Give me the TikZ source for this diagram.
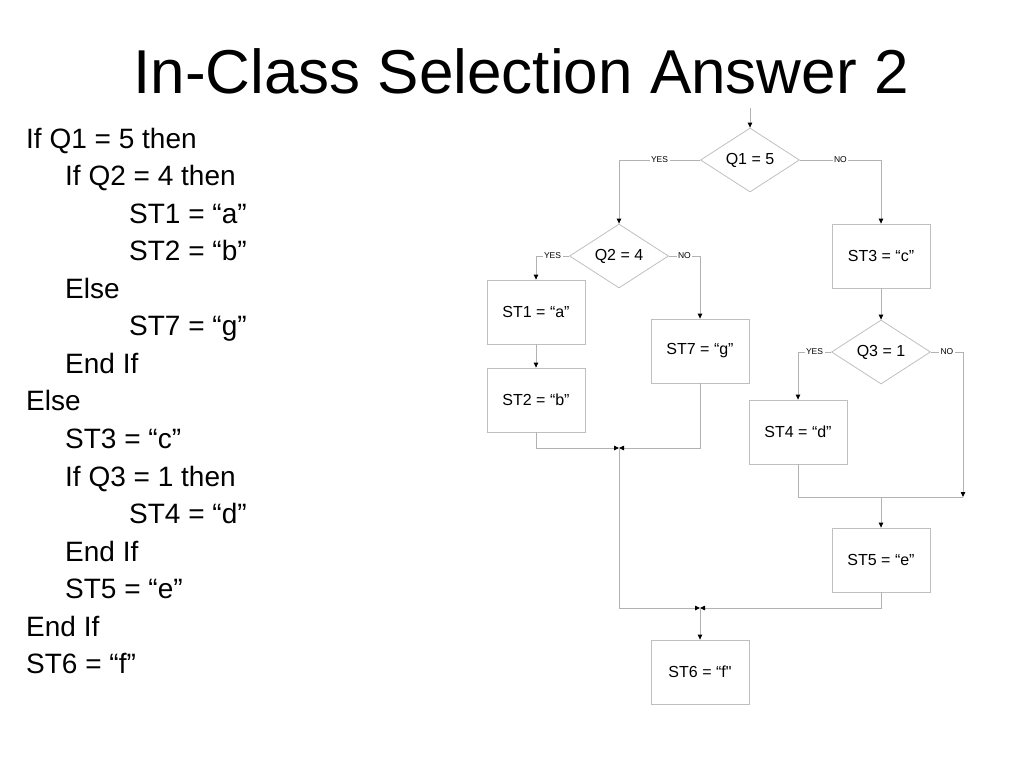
\documentclass[tikz,border=0pt]{standalone}
\usepackage{fontspec}
\setmainfont{Liberation Sans}[Ligatures=TeXOff]
\usetikzlibrary{shapes.geometric,arrows.meta}

\begin{document}
\begin{tikzpicture}[x=1pt,y=-1pt,
    box/.style={draw=gray!50,line width=0.8pt,minimum width=98pt,minimum height=64pt,font=\fontsize{16}{19}\selectfont},
    test/.style={draw=gray!50,line width=0.8pt,diamond,aspect=1.5,inner sep=1pt,minimum width=99pt,minimum height=64pt,font=\fontsize{16}{19}\selectfont},
    flow/.style={draw=gray!60,line width=0.8pt,-{Triangle[length=5pt,width=4.5pt,color=black]}},
    link/.style={draw=gray!60,line width=0.8pt},
    description/.style={fill=white,inner sep=1.5pt,font=\fontsize{8.5}{10}\selectfont}]
  \useasboundingbox (0,0) rectangle (1024,768);
  \node[anchor=base,font=\fontsize{62}{70}\selectfont] (title) at (521,93) {In-Class Selection Answer 2};
  % pseudo code
  \foreach \ind/\txt [count=\i] in {26/If Q1 = 5 then, 65/If Q2 = 4 then, 129/ST1 = “a”, 129/ST2 = “b”,
      65/Else, 129/ST7 = “g”, 65/End If, 26/Else, 65/ST3 = “c”, 65/If Q3 = 1 then,
      129/ST4 = “d”, 65/End If, 65/ST5 = “e”, 26/End If, 26/ST6 = “f”}
    \node[anchor=base west,inner sep=0pt,font=\fontsize{28}{34}\selectfont] (code-\i) at (\ind,{148+37.57*(\i-1)}) {\txt};
  % flow chart
  \node[test] (q1) at (750,160) {Q1 = 5};
  \node[test] (q2) at (619,256) {Q2 = 4};
  \node[box] (st1) at (536,312) {ST1 = “a”};
  \node[box] (st2) at (536,400) {ST2 = “b”};
  \node[box] (st7) at (700,351) {ST7 = “g”};
  \node[box] (st3) at (881,256) {ST3 = “c”};
  \node[test] (q3) at (881,352) {Q3 = 1};
  \node[box] (st4) at (798,432) {ST4 = “d”};
  \node[box] (st5) at (881,560) {ST5 = “e”};
  \node[box] (st6) at (700,672) {ST6 = “f"};
  \coordinate (in) at (750,108);
  \coordinate (m1) at (619,448);
  \coordinate (m2) at (700,608);
  \coordinate (m3) at (963,497);
  \draw[flow] (in) -- (q1);
  \draw[flow] (q1.west) -| node[description,pos=0.25] {YES} (q2.north);
  \draw[flow] (q1.east) -| node[description,pos=0.25] {NO} (st3.north);
  \draw[flow] (q2.west) -| node[description,pos=0.25] {YES} (st1.north);
  \draw[flow] (q2.east) -| node[description,pos=0.25] {NO} (st7.north);
  \path[flow] (st1) edge (st2) (st3) edge (q3);
  \draw[flow] (q3.west) -| node[description,pos=0.25] {YES} (st4.north);
  \draw[flow] (q3.east) -| node[description,pos=0.25] {NO} (m3);
  \draw[link] (st4.south) |- (m3);
  \draw[flow] (st5.north |- m3) -- (st5.north);
  \draw[flow] (st2.south) |- (m1);
  \draw[flow] (st7.south) |- (m1);
  \draw[flow] (m1) |- (m2);
  \draw[flow] (st5.south) |- (m2);
  \draw[flow] (m2) -- (st6.north);
\end{tikzpicture}
\end{document}
